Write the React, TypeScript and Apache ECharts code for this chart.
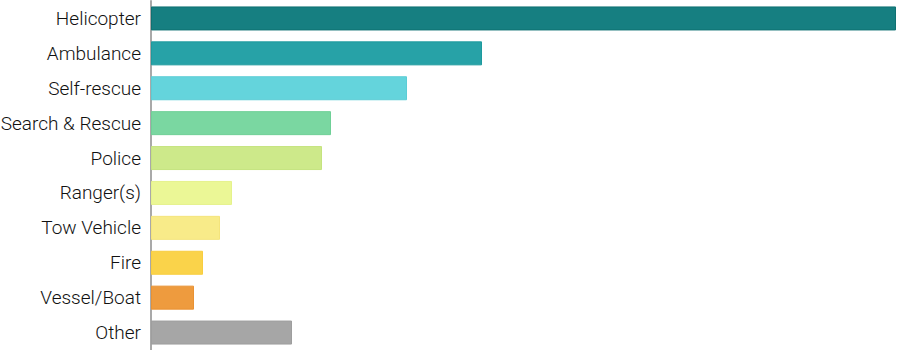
import React, { useEffect, useRef } from "react";
import * as echarts from "echarts";

const categories = [
  "Helicopter",
  "Ambulance",
  "Self-rescue",
  "Search & Rescue",
  "Police",
  "Ranger(s)",
  "Tow Vehicle",
  "Fire",
  "Vessel/Boat",
  "Other",
];
const values = [745, 331, 256, 180, 171, 81, 69, 52, 43, 141];
const fillColors = [
  "#167f81",
  "#27a2a7",
  "#64d4dc",
  "#7ad7a1",
  "#cde98a",
  "#ebf796",
  "#f8eb89",
  "#fad34a",
  "#ee9b3e",
  "#a6a6a6",
];
const borderColors = [
  "#0f7172",
  "#1d9a9e",
  "#5bcdd5",
  "#6fd097",
  "#c5e37f",
  "#e5f28c",
  "#f4e47c",
  "#f8cd3f",
  "#e99233",
  "#9e9e9e",
];

export default function App() {
  const ref = useRef<HTMLDivElement>(null);
  useEffect(() => {
    if (!ref.current) return;
    const chart = echarts.init(ref.current, undefined, { renderer: "svg" });
    chart.setOption({
      animation: false,
      grid: {
        left: 151,
        right: 4,
        top: 1,
        bottom: 0,
        containLabel: false,
        outerBoundsMode: "none",
      },
      xAxis: {
        type: "value",
        min: 0,
        max: 745,
        show: false,
        splitLine: { show: false },
      },
      yAxis: {
        type: "category",
        data: categories,
        inverse: true,
        axisTick: { show: false },
        axisLine: { show: true, lineStyle: { color: "#a9a9a9", width: 2 } },
        axisLabel: {
          color: "#111111",
          fontSize: 19,
          fontFamily: "Roboto",
          fontWeight: 300,
          margin: 10,
        },
      },
      series: [
        {
          type: "bar",
          barWidth: 24,
          data: values.map((v, i) => ({
            value: v,
            itemStyle: {
              color: fillColors[i],
              borderColor: borderColors[i],
              borderWidth: 1,
            },
          })),
        },
      ],
    });
    return () => chart.dispose();
  }, []);
  return <div ref={ref} style={{ width: 900, height: 350, position: "absolute", left: 0, top: 0 }} />;
}
